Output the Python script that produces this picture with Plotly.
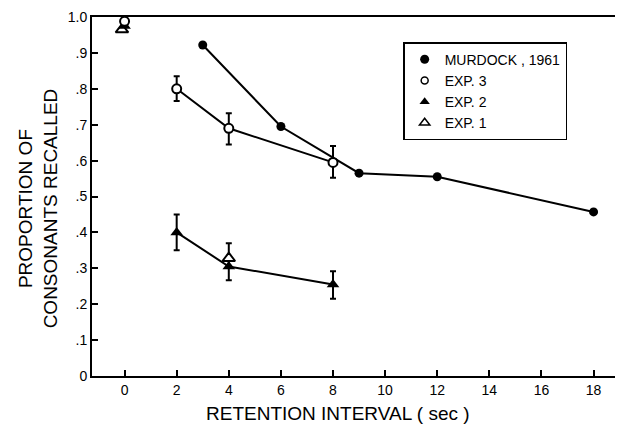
import plotly.graph_objects as go

# Data
murdock_x = [3, 6, 9, 12, 18]
murdock_y = [0.922, 0.695, 0.565, 0.555, 0.457]

exp3_x = [2, 4, 8]
exp3_y = [0.80, 0.69, 0.595]
exp3_err_plus = [0.035, 0.042, 0.046]
exp3_err_minus = [0.034, 0.045, 0.043]

exp2_x = [2, 4, 8]
exp2_y = [0.40, 0.305, 0.255]
exp2_err_plus = [0.05, 0.065, 0.037]
exp2_err_minus = [0.05, 0.038, 0.04]

exp3_zero_x = [0]
exp3_zero_y = [0.988]
exp2_zero_x = [0]
exp2_zero_y = [0.975]
exp1_x = [-0.1, 4]
exp1_y = [0.965, 0.328]

x_ticks = [0, 2, 4, 6, 8, 10, 12, 14, 16, 18]
y_ticks = [0, 0.1, 0.2, 0.3, 0.4, 0.5, 0.6, 0.7, 0.8, 0.9, 1.0]
y_ticktext = ["0", ".1", ".2", ".3", ".4", ".5", ".6", ".7", ".8", ".9", "1.0"]

FONT = "Liberation Sans, Arial, sans-serif"
BLACK = "black"

fig = go.Figure()

line_style = dict(color=BLACK, width=2)
err_style = dict(type="data", symmetric=False, color=BLACK, thickness=2, width=3)

# Lines with markers (not shown in legend)
fig.add_trace(go.Scatter(x=murdock_x, y=murdock_y, mode="lines+markers",
                         line=line_style, marker=dict(symbol="circle", size=9, color=BLACK),
                         showlegend=False))
fig.add_trace(go.Scatter(x=exp3_x, y=exp3_y, mode="lines+markers",
                         line=line_style,
                         marker=dict(symbol="circle", size=9, color="white", line=dict(color=BLACK, width=2)),
                         error_y=dict(array=exp3_err_plus, arrayminus=exp3_err_minus, **err_style),
                         showlegend=False))
fig.add_trace(go.Scatter(x=exp2_x, y=exp2_y, mode="lines+markers",
                         line=line_style,
                         marker=dict(symbol="triangle-up", size=11, color=BLACK),
                         error_y=dict(array=exp2_err_plus, arrayminus=exp2_err_minus, **err_style),
                         showlegend=False))
fig.add_trace(go.Scatter(x=exp1_x, y=exp1_y, mode="markers",
                         marker=dict(symbol="triangle-up", size=11, color="white", line=dict(color=BLACK, width=2)),
                         showlegend=False))
fig.add_trace(go.Scatter(x=exp2_zero_x, y=exp2_zero_y, mode="markers",
                         marker=dict(symbol="triangle-up", size=11, color=BLACK),
                         showlegend=False))
fig.add_trace(go.Scatter(x=exp3_zero_x, y=exp3_zero_y, mode="markers",
                         marker=dict(symbol="circle", size=9, color="white", line=dict(color=BLACK, width=2)),
                         showlegend=False))

# Legend-only entries (markers only)
legend_entries = [
    ("MURDOCK , 1961", dict(symbol="circle", size=9, color=BLACK)),
    ("EXP. 3", dict(symbol="circle", size=7, color="white", line=dict(color=BLACK, width=1.5))),
    ("EXP. 2", dict(symbol="triangle-up", size=9, color=BLACK)),
    ("EXP. 1", dict(symbol="triangle-up", size=9, color="white", line=dict(color=BLACK, width=1.5))),
]
for name, mk in legend_entries:
    fig.add_trace(go.Scatter(x=[None], y=[None], mode="markers", name=name, marker=mk))

# The page body adds an 8px margin, so the canvas is 8px smaller and shifted.
fig.update_layout(
    width=615, height=420,
    margin=dict(l=84, r=0, t=9, b=52),
    paper_bgcolor="white", plot_bgcolor="white",
    font=dict(family=FONT, color=BLACK, size=14),
    showlegend=True,
    legend=dict(x=0.586, y=0.93, xanchor="left", yanchor="top",
                bordercolor=BLACK, borderwidth=1.5, bgcolor="white",
                font=dict(family=FONT, size=14), itemwidth=30, tracegroupgap=2),
    xaxis=dict(range=[-1.25, 19.13], tickvals=x_ticks, ticks="inside", ticklen=6,
               tickwidth=1.5, tickcolor=BLACK, showline=True, linecolor=BLACK, linewidth=2,
               mirror=True, showgrid=False, zeroline=False,
               tickfont=dict(family=FONT, size=14)),
    yaxis=dict(range=[0, 1.0], tickvals=y_ticks, ticktext=y_ticktext, ticks="inside", ticklen=6,
               tickwidth=1.5, tickcolor=BLACK, showline=True, linecolor=BLACK, linewidth=2,
               showgrid=False, zeroline=False, tickfont=dict(family=FONT, size=14)),
    annotations=[
        dict(text="PROPORTION OF<br>CONSONANTS RECALLED", xref="paper", yref="paper",
             x=-0.101, y=0.468, xanchor="center", yanchor="middle", textangle=-90,
             showarrow=False, font=dict(family=FONT, size=19)),
        dict(text="RETENTION INTERVAL ( sec )", xref="paper", yref="paper",
             x=0.463, y=-0.105, xanchor="center", yanchor="middle",
             showarrow=False, font=dict(family=FONT, size=19)),
    ],
)

fig.write_html("out.html")
